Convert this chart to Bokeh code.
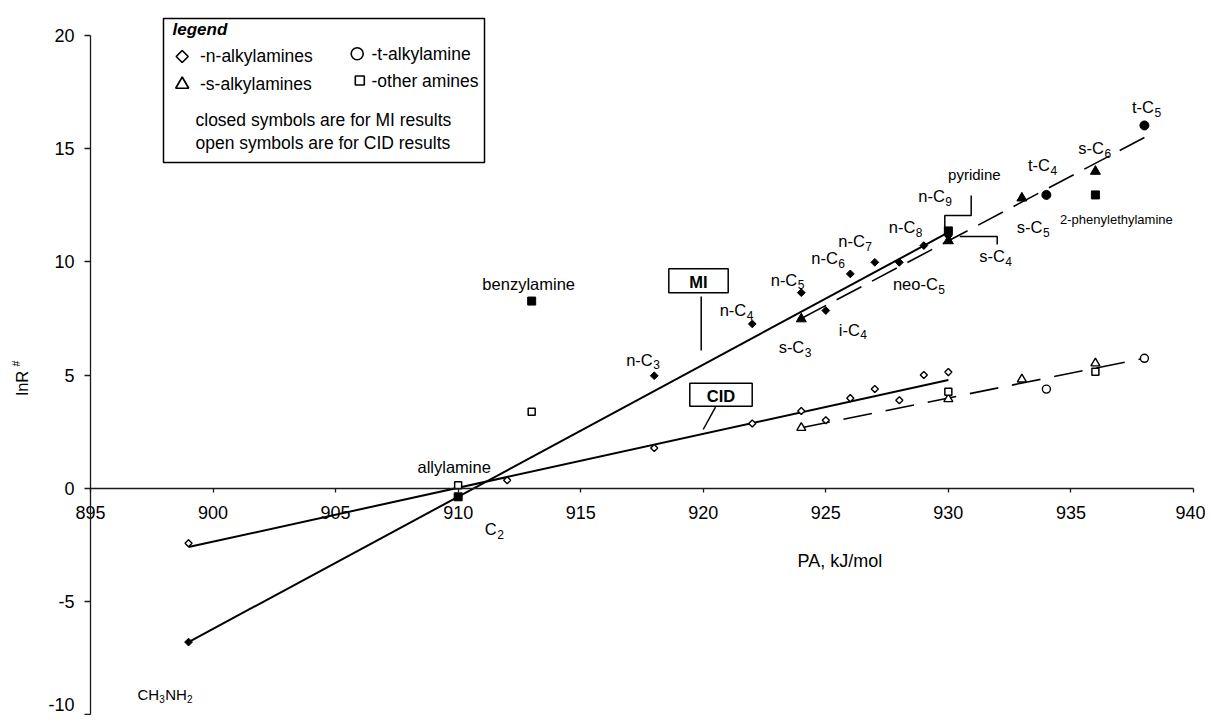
import math
from bokeh.plotting import figure
from bokeh.models import LinearAxis, FixedTicker, Range1d
from bokeh.core.properties import value
from bokeh.embed import file_html
from bokeh.resources import INLINE

FONT = "Liberation Sans"

# ---------------- data ----------------
# closed symbols: MI results
mi_n_names = ["CH3NH2", "n-C3", "n-C4", "n-C5", "i-C4", "n-C6", "n-C7", "neo-C5", "n-C8", "n-C9"]
mi_n_pa = [899, 918, 922, 924, 925, 926, 927, 928, 929, 930]
mi_n_lnr = [-6.8, 4.97, 7.26, 8.64, 7.85, 9.47, 9.98, 9.98, 10.72, 11.15]
mi_s_names = ["s-C3", "s-C4", "s-C5", "s-C6"]
mi_s_pa = [924, 930, 933, 936]
mi_s_lnr = [7.48, 10.93, 12.82, 14.0]
mi_t_names = ["t-C4", "t-C5"]
mi_t_pa = [934, 938]
mi_t_lnr = [12.96, 16.03]
mi_o_names = ["allylamine", "benzylamine", "pyridine", "2-phenylethylamine"]
mi_o_pa = [910, 913, 930, 936]
mi_o_lnr = [-0.38, 8.27, 11.37, 12.96]

# open symbols: CID results
cid_n_names = ["CH3NH2", "C2", "n-C3", "n-C4", "n-C5", "i-C4", "n-C6", "n-C7", "neo-C5", "n-C8", "n-C9"]
cid_n_pa = [899, 912, 918, 922, 924, 925, 926, 927, 928, 929, 930]
cid_n_lnr = [-2.43, 0.35, 1.78, 2.86, 3.41, 3.0, 3.98, 4.38, 3.89, 5.0, 5.13]
cid_s_pa = [924, 930, 933, 936]
cid_s_lnr = [2.67, 3.94, 4.81, 5.52]
cid_t_pa = [934, 938]
cid_t_lnr = [4.38, 5.74]
cid_o_names = ["allylamine", "benzylamine", "pyridine", "2-phenylethylamine"]
cid_o_pa = [910, 913, 930, 936]
cid_o_lnr = [0.13, 3.38, 4.26, 5.15]

# trend lines
mi_line_pa = [899, 930]
mi_line_lnr = [-6.8, 11.3]
cid_line_pa = [899, 930]
cid_line_lnr = [-2.6, 4.78]
mi_branch_pa = [924, 938]
mi_branch_lnr = [7.5, 15.5]
cid_branch_pa = [924, 938]
cid_branch_lnr = [2.67, 5.74]

x_ticks = [895, 900, 905, 910, 915, 920, 925, 930, 935, 940]
y_ticks = [-10, -5, 0, 5, 10, 15, 20]
y_tick_labels = ["-10", "-5", "0", "5", "10", "15", "20"]

# ---------------- layout ----------------
W, H = 1205, 715
XS, YS = 24.51, 22.63            # px per unit
X0C, Y0C = 90, 487.7             # canvas px of PA=895 and lnR=0
x_start = 895 - X0C / XS
x_end = x_start + W / XS
y_end = Y0C / YS
y_start = y_end - H / YS


def rx(px):  # canvas px -> data x
    return 895 + (px - X0C) / XS


def ry(py):  # canvas px -> data y
    return (Y0C - py) / YS


p = figure(width=W, height=H, x_range=Range1d(x_start, x_end), y_range=Range1d(y_start, y_end),
           output_backend="svg", toolbar_location=None, x_axis_location=None, y_axis_location=None,
           min_border=0, outline_line_color=None, background_fill_color="white")
p.grid.visible = False

xaxis = LinearAxis(fixed_location=0, bounds=(895, 940), ticker=FixedTicker(ticks=x_ticks, minor_ticks=[]))
# the lowest y tick (at the page's bottom edge) is drawn separately below so its label stays inside the page
yaxis = LinearAxis(fixed_location=895, bounds=(y_ticks[0], y_ticks[-1]),
                   ticker=FixedTicker(ticks=y_ticks[1:], minor_ticks=[]))
for ax, out, stand in ((xaxis, 4, 14), (yaxis, 6, 10)):
    ax.major_tick_in = 0
    ax.major_tick_out = out
    ax.minor_tick_in = 0
    ax.minor_tick_out = 0
    ax.major_label_standoff = stand
    ax.major_label_text_font = FONT
    ax.major_label_text_font_size = "18px"
    ax.major_label_text_color = "black"
    ax.axis_line_color = "#1a1a1a"
    ax.axis_line_width = 1.3
    ax.major_tick_line_color = "#1a1a1a"
    ax.major_tick_line_width = 1.3
yaxis.major_label_overrides = {t: lab for t, lab in zip(y_ticks, y_tick_labels)}
p.add_layout(xaxis, "below")
p.add_layout(yaxis, "left")
p.line([rx(X0C - 6), 895], [y_ticks[0], y_ticks[0]], line_color="#1a1a1a", line_width=1.3)
p.text([rx(X0C - 16)], [ry(Y0C - y_ticks[0] * YS - 10)], text=[y_tick_labels[0]], text_font=value(FONT),
       text_font_size="18px", text_align="right", text_baseline="middle", text_color="black")

# ---------------- lines ----------------
p.line(mi_line_pa, mi_line_lnr, line_color="black", line_width=2)
p.line(cid_line_pa, cid_line_lnr, line_color="black", line_width=2)
p.line(mi_branch_pa, mi_branch_lnr, line_color="black", line_width=1.6, line_dash="28 12")
p.line(cid_branch_pa, cid_branch_lnr, line_color="black", line_width=1.6, line_dash="29 14")

# ---------------- markers ----------------
D45 = math.pi / 4
# open (CID)
p.scatter(cid_n_pa, cid_n_lnr, marker="square", angle=D45, size=5, fill_color="white", line_color="black", line_width=1.4)
p.scatter(cid_s_pa, cid_s_lnr, marker="triangle", size=9, fill_color="white", line_color="black", line_width=1.4)
p.scatter(cid_t_pa, cid_t_lnr, marker="circle", size=8, fill_color="white", line_color="black", line_width=1.4)
p.scatter(cid_o_pa, cid_o_lnr, marker="square", size=7, fill_color="white", line_color="black", line_width=1.5)
# closed (MI)
p.scatter(mi_n_pa, mi_n_lnr, marker="square", angle=D45, size=5.5, fill_color="black", line_color="black", line_width=1)
p.scatter(mi_s_pa, mi_s_lnr, marker="triangle", size=10, fill_color="black", line_color="black", line_width=1)
p.scatter(mi_t_pa, mi_t_lnr, marker="circle", size=9, fill_color="black", line_color="black", line_width=1)
p.scatter(mi_o_pa, mi_o_lnr, marker="square", size=8, fill_color="black", line_color="black", line_width=1)

# ---------------- point labels ----------------
series = {
    "mi_n": (mi_n_names, mi_n_pa, mi_n_lnr),
    "mi_s": (mi_s_names, mi_s_pa, mi_s_lnr),
    "mi_t": (mi_t_names, mi_t_pa, mi_t_lnr),
    "mi_o": (mi_o_names, mi_o_pa, mi_o_lnr),
    "cid_n": (cid_n_names, cid_n_pa, cid_n_lnr),
    "cid_o": (cid_o_names, cid_o_pa, cid_o_lnr),
}


def anchor(key, name):
    names, xs, ys = series[key]
    i = names.index(name)
    return xs[i], ys[i]


# (series, point name, main text, subscript, dx px to end of main text, dy px to baseline (down +))
sub_labels = [
    ("mi_n", "n-C3", "n-C", "3", -1.5, -10),
    ("mi_n", "n-C4", "n-C", "4", -6, -7.5),
    ("mi_n", "n-C5", "n-C", "5", -4, -7),
    ("mi_n", "n-C6", "n-C", "6", -12.5, -10),
    ("mi_n", "n-C7", "n-C", "7", -10, -15),
    ("mi_n", "n-C8", "n-C", "8", -8.5, -12.5),
    ("mi_n", "n-C9", "n-C", "9", -3.5, -33.5),
    ("mi_n", "neo-C5", "neo-C", "5", 38.5, 27.5),
    ("mi_s", "s-C3", "s-C", "3", 3, 34.5),
    ("mi_n", "i-C4", "i-C", "4", 34, 25),
    ("mi_s", "s-C4", "s-C", "4", 56.5, 21.5),
    ("mi_s", "s-C5", "s-C", "5", 20.5, 35),
    ("mi_t", "t-C4", "t-C", "4", 3.5, -23.5),
    ("mi_s", "s-C6", "s-C", "6", 8.5, -17),
    ("mi_t", "t-C5", "t-C", "5", 9.5, -12.5),
    ("cid_n", "C2", "C", "2", -10.5, 55),
]
mx, my, mt, sx, sy, st = [], [], [], [], [], []
for key, name, main, sub, dx, dy in sub_labels:
    ax_, ay_ = anchor(key, name)
    mx.append(ax_ + dx / XS)
    my.append(ay_ - (dy - 6) / YS)
    mt.append(main)
    sx.append(ax_ + (dx + 0.5) / XS)
    sy.append(ay_ - (dy + 3.5 - 4.3) / YS)
    st.append(sub)
p.text(mx, my, text=mt, text_font=value(FONT), text_font_size="16.5px", text_align="right",
       text_baseline="middle", text_color="black")
p.text(sx, sy, text=st, text_font=value(FONT), text_font_size="12px", text_align="left",
       text_baseline="middle", text_color="black")

# centred plain labels (dy = px offset of the text's vertical centre)
plain_labels = [
    ("mi_o", "benzylamine", "benzylamine", -3, -17.5, "16.5px"),
    ("cid_o", "allylamine", "allylamine", -4, -18, "16.5px"),
    ("mi_o", "pyridine", "pyridine", 26, -56, "15px"),
    ("mi_o", "2-phenylethylamine", "2-phenylethylamine", 21, 25, "13px"),
]
for key, name, txt, dx, dy, fs in plain_labels:
    ax_, ay_ = anchor(key, name)
    p.text([ax_ + dx / XS], [ay_ - dy / YS], text=[txt], text_font=value(FONT), text_font_size=fs,
           text_align="center", text_baseline="middle", text_color="black")

# CH3NH2 label (pieces)
cx, cy = anchor("mi_n", "CH3NH2")
pieces = [("CH", -51, 52, "15px"), ("3", -29.3, 57.4, "10px"), ("NH", -23.3, 52, "15px"), ("2", -1.6, 57.4, "10px")]
for txt, dx, dy, fs in pieces:
    p.text([cx + dx / XS], [cy - dy / YS], text=[txt], text_font=value(FONT), text_font_size=fs,
           text_align="left", text_baseline="middle", text_color="black")

# ---------------- callouts ----------------
for (l, t, r, b, txt, cxp, cyp) in ((668.3, 268.3, 727.7, 292.3, "MI", 698, 281),
                                    (689.3, 382.7, 751.7, 405.7, "CID", 720.5, 395)):
    p.quad(left=[rx(l)], right=[rx(r)], top=[ry(t)], bottom=[ry(b)], fill_color="white",
           line_color="black", line_width=1.5)
    p.text([rx(cxp)], [ry(cyp)], text=[txt], text_font=value(FONT), text_font_size="16.5px",
           text_font_style="bold", text_align="center", text_baseline="middle", text_color="black")
p.line([rx(700.7), rx(700.7)], [ry(296), ry(350)], line_color="black", line_width=1.5)
p.line([rx(715), rx(702.7)], [ry(406.7), ry(429)], line_color="black", line_width=1.5)
p.line([rx(944.3), rx(944.3), rx(970.7), rx(970.7)], [ry(231.7), ry(215), ry(215), ry(195)],
       line_color="black", line_width=1.5)
p.line([rx(959.3), rx(996.7), rx(996.7)], [ry(236), ry(236), ry(244)], line_color="black", line_width=1.5)

# ---------------- legend box ----------------
p.quad(left=[rx(163)], right=[rx(484)], top=[ry(18)], bottom=[ry(162)], fill_color="white",
       line_color="black", line_width=1.5)
p.text([rx(172)], [ry(29)], text=["legend"], text_font=value(FONT), text_font_size="17px",
       text_font_style="bold italic", text_align="left", text_baseline="middle", text_color="black")
p.scatter([rx(181.7)], [ry(56)], marker="square", angle=D45, size=8.5, fill_color="white",
          line_color="black", line_width=1.7)
p.scatter([rx(181.7)], [ry(84)], marker="triangle", size=13, fill_color="white", line_color="black", line_width=1.7)
p.scatter([rx(356.7)], [ry(53.3)], marker="circle", size=12, fill_color="white", line_color="black", line_width=1.6)
p.scatter([rx(359.3)], [ry(80)], marker="square", size=9, fill_color="white", line_color="black", line_width=1.6)
leg_texts = [("-n-alkylamines", 199.5, 55), ("-s-alkylamines", 199.5, 83), ("-t-alkylamine", 371, 53),
             ("-other amines", 371, 80), ("closed symbols are for MI results", 195, 119.7),
             ("open symbols are for CID results", 195, 142.2)]
for txt, xp, yp in leg_texts:
    p.text([rx(xp)], [ry(yp)], text=[txt], text_font=value(FONT), text_font_size="17.5px",
           text_align="left", text_baseline="middle", text_color="black")

# ---------------- axis titles ----------------
p.text([rx(797)], [ry(560)], text=["PA, kJ/mol"], text_font=value(FONT), text_font_size="18px",
       text_align="left", text_baseline="middle", text_color="black")
p.text([rx(21)], [ry(395)], text=["lnR"], angle=math.pi / 2, text_font=value(FONT), text_font_size="16.5px",
       text_align="left", text_baseline="middle", text_color="black")
p.text([rx(15)], [ry(366)], text=["#"], angle=math.pi / 2, text_font=value(FONT), text_font_size="10.5px",
       text_align="left", text_baseline="middle", text_color="black")

open("out.html", "w").write(file_html(p, INLINE))
